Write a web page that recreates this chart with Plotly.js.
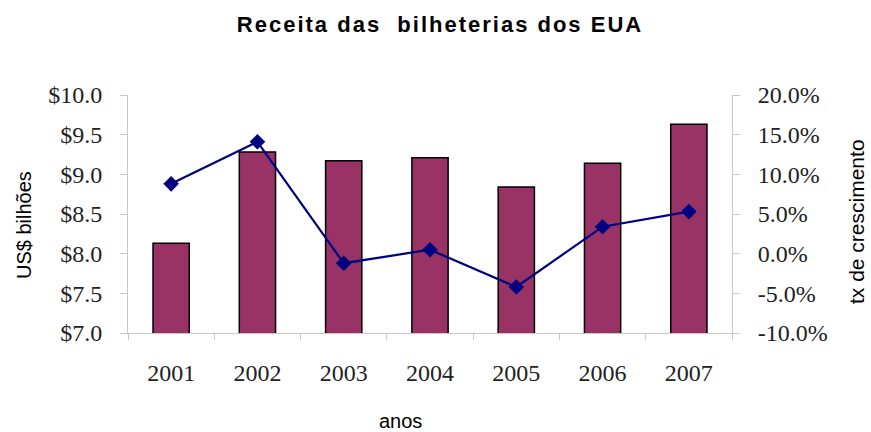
<!DOCTYPE html>
<html>
<head>
<meta charset="utf-8">
<script src="https://cdn.plot.ly/plotly-3.0.1.min.js"></script>
<style>
  html, body { margin: 0; padding: 0; background: #fff; }
  #chart { width: 871px; height: 432px; }
  /* the original title is drawn with wide letter spacing */
  #chart .gtitle { letter-spacing: 2px; }
</style>
</head>
<body>
<div id="chart"></div>
<script>
// Receita das bilheterias dos EUA, 2001-2007
const anos = ['2001', '2002', '2003', '2004', '2005', '2006', '2007'];
const receita = [8.13, 9.28, 9.17, 9.21, 8.84, 9.14, 9.63];   // US$ bilhões
const crescimento = [8.8, 14.1, -1.2, 0.5, -4.2, 3.4, 5.3];    // % ao ano

const leftTicks = [7.0, 7.5, 8.0, 8.5, 9.0, 9.5, 10.0];
const rightTicks = [-10, -5, 0, 5, 10, 15, 20];

const serif = 'Liberation Serif, Times New Roman, serif';
const sans = 'Liberation Sans, Arial, sans-serif';

const traces = [
  {
    x: anos,
    y: receita,
    type: 'bar',
    name: 'Receita',
    marker: {
      color: '#993366',
      line: { color: '#000000', width: 1.5 }
    },
    yaxis: 'y'
  },
  {
    x: anos,
    y: crescimento,
    type: 'scatter',
    mode: 'lines+markers',
    name: 'Crescimento',
    line: { color: '#000080', width: 2.2 },
    marker: { symbol: 'diamond', size: 12, color: '#000080' },
    yaxis: 'y2'
  }
];

const layout = {
  width: 871,
  height: 432,
  margin: { l: 128, r: 139, t: 95, b: 99 },
  paper_bgcolor: '#ffffff',
  plot_bgcolor: '#ffffff',
  showlegend: false,
  bargap: 0.58,
  title: {
    text: 'Receita das&nbsp; bilheterias dos EUA',
    font: { family: sans, size: 22, color: '#000000', weight: 'bold' },
    x: 440 / 871,
    xanchor: 'center',
    y: 1 - 24 / 432,
    yanchor: 'middle'
  },
  xaxis: {
    type: 'category',
    showgrid: false,
    showline: true,
    linecolor: '#c8c8c8',
    linewidth: 1,
    ticks: 'outside',
    tickcolor: '#c8c8c8',
    ticklen: 6,
    tickson: 'boundaries',
    ticklabelstandoff: 18,
    tickfont: { family: serif, size: 24, color: '#222222' },
    zeroline: false
  },
  yaxis: {
    range: [7.0, 10.0],
    tickvals: leftTicks,
    ticktext: leftTicks.map(v => '$' + v.toFixed(1)),
    showgrid: false,
    showline: true,
    linecolor: '#c8c8c8',
    linewidth: 1,
    ticks: 'outside',
    tickcolor: '#c8c8c8',
    ticklen: 7,
    ticklabelstandoff: 13,
    tickfont: { family: serif, size: 24, color: '#222222' },
    zeroline: false
  },
  yaxis2: {
    overlaying: 'y',
    side: 'right',
    range: [-10, 20],
    tickvals: rightTicks,
    ticktext: rightTicks.map(v => v.toFixed(1) + '%'),
    showgrid: false,
    showline: true,
    linecolor: '#c8c8c8',
    linewidth: 1,
    ticks: 'outside',
    tickcolor: '#c8c8c8',
    ticklen: 7,
    ticklabelstandoff: 13,
    tickfont: { family: serif, size: 24, color: '#222222' },
    zeroline: false
  },
  annotations: [
    {
      text: 'anos',
      xref: 'paper', yref: 'paper',
      x: (400 - 128) / 604, y: -(421 - 333) / 238,
      xanchor: 'center', yanchor: 'middle',
      showarrow: false,
      font: { family: sans, size: 20, color: '#000000' }
    },
    {
      text: 'US$ bilhões',
      xref: 'paper', yref: 'paper',
      x: (24 - 128) / 604, y: (333 - 225) / 238,
      xanchor: 'center', yanchor: 'middle',
      textangle: -90,
      showarrow: false,
      font: { family: sans, size: 20, color: '#000000' }
    },
    {
      text: 'tx de crescimento',
      xref: 'paper', yref: 'paper',
      x: (856 - 128) / 604, y: (333 - 222) / 238,
      xanchor: 'center', yanchor: 'middle',
      textangle: -90,
      showarrow: false,
      font: { family: sans, size: 21, color: '#000000' }
    }
  ]
};

Plotly.newPlot('chart', traces, layout, { displayModeBar: false, staticPlot: true });
</script>
</body>
</html>
